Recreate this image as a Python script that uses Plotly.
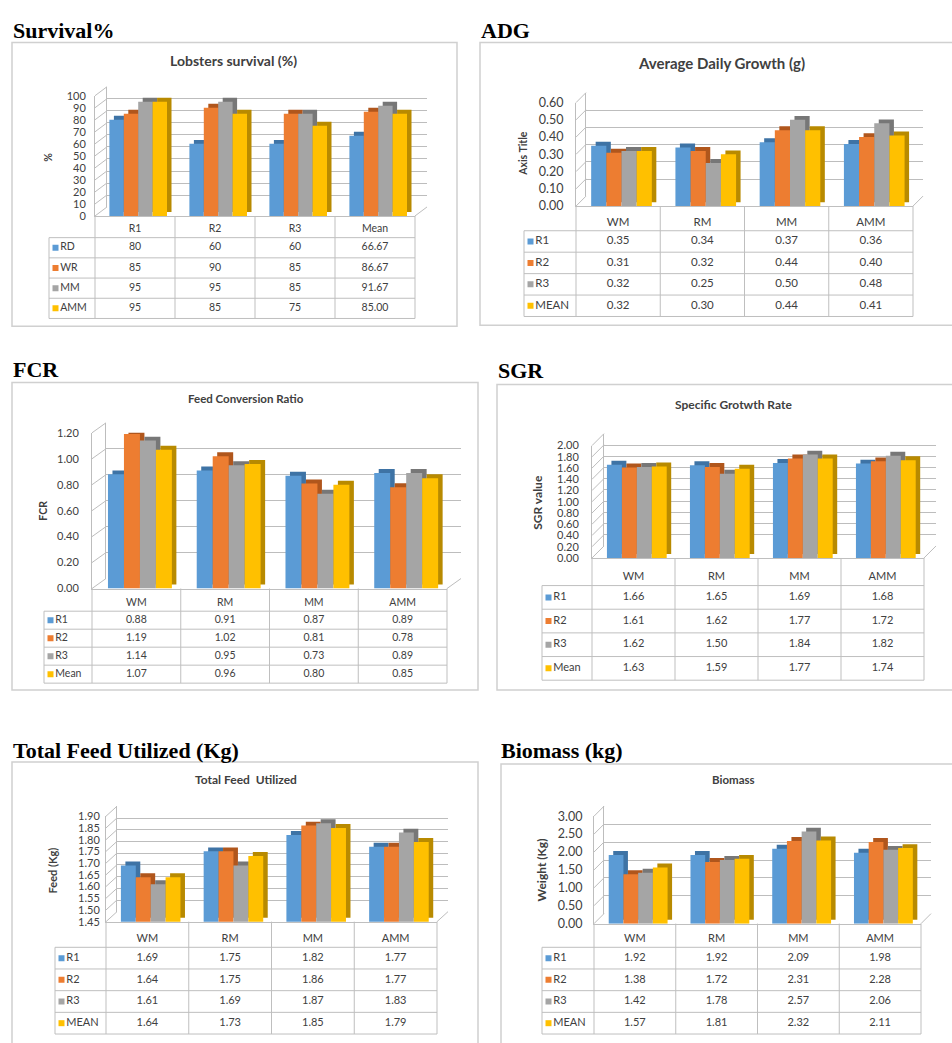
import plotly.graph_objects as go

W, H = 952, 1043

# ---------------- data ----------------
survival_categories = ["R1", "R2", "R3", "Mean"]
survival_series = ["RD", "WR", "MM", "AMM"]
survival_values = [[80, 60, 60, 66.67],
                   [85, 90, 85, 86.67],
                   [95, 95, 85, 91.67],
                   [95, 85, 75, 85.00]]
survival_ticks = [0, 10, 20, 30, 40, 50, 60, 70, 80, 90, 100]

adg_categories = ["WM", "RM", "MM", "AMM"]
adg_series = ["R1", "R2", "R3", "MEAN"]
adg_values = [[0.35, 0.34, 0.37, 0.36],
              [0.31, 0.32, 0.44, 0.40],
              [0.32, 0.25, 0.50, 0.48],
              [0.32, 0.30, 0.44, 0.41]]
adg_ticks = [0.0, 0.1, 0.2, 0.3, 0.4, 0.5, 0.6]

fcr_categories = ["WM", "RM", "MM", "AMM"]
fcr_series = ["R1", "R2", "R3", "Mean"]
fcr_values = [[0.88, 0.91, 0.87, 0.89],
              [1.19, 1.02, 0.81, 0.78],
              [1.14, 0.95, 0.73, 0.89],
              [1.07, 0.96, 0.80, 0.85]]
fcr_ticks = [0.0, 0.2, 0.4, 0.6, 0.8, 1.0, 1.2]

sgr_categories = ["WM", "RM", "MM", "AMM"]
sgr_series = ["R1", "R2", "R3", "Mean"]
sgr_values = [[1.66, 1.65, 1.69, 1.68],
              [1.61, 1.62, 1.77, 1.72],
              [1.62, 1.50, 1.84, 1.82],
              [1.63, 1.59, 1.77, 1.74]]
sgr_ticks = [0.0, 0.2, 0.4, 0.6, 0.8, 1.0, 1.2, 1.4, 1.6, 1.8, 2.0]

feed_categories = ["WM", "RM", "MM", "AMM"]
feed_series = ["R1", "R2", "R3", "MEAN"]
feed_values = [[1.69, 1.75, 1.82, 1.77],
               [1.64, 1.75, 1.86, 1.77],
               [1.61, 1.69, 1.87, 1.83],
               [1.64, 1.73, 1.85, 1.79]]
feed_ticks = [1.45, 1.50, 1.55, 1.60, 1.65, 1.70, 1.75, 1.80, 1.85, 1.90]

biomass_categories = ["WM", "RM", "MM", "AMM"]
biomass_series = ["R1", "R2", "R3", "MEAN"]
biomass_values = [[1.92, 1.92, 2.09, 1.98],
                  [1.38, 1.72, 2.31, 2.28],
                  [1.42, 1.78, 2.57, 2.06],
                  [1.57, 1.81, 2.32, 2.11]]
biomass_ticks = [0.0, 0.5, 1.0, 1.5, 2.0, 2.5, 3.0]

# ---------------- style ----------------
COLORS = ["#5B9BD5", "#ED7D31", "#A5A5A5", "#FFC000"]
SIDES = ["#3E73A5", "#B0561C", "#777777", "#B88A00"]
FONT = "Lato, 'Open Sans', sans-serif"
SERIF = "'Liberation Serif', 'Times New Roman', serif"
TXT = "#404040"
GRID = "#BDBDBD"
TLINE = "#BFBFBF"

panels = [
    dict(heading="Survival%", hpos=(11, 23), title="Lobsters survival (%)", tpos=(233, 53),
         ytitle="%", ytpos=(48, 152), frame=(12, 35, 457, 323),
         fl=95, fr=415, ft=89, fb=211, dx=12, dy=9, leg=49, hb=233, tb=315, gap=9,
         tsz=14, ksz=11, csz=10.5, ysz=10.5,
         cats=survival_categories, series=survival_series, vals=survival_values,
         ticks=survival_ticks, tfmt="d", cfmt=["{:.0f}", "{:.0f}", "{:.0f}", "{:.2f}"]),
    dict(heading="ADG", hpos=(479, 23), title="Average Daily Growth (g)", tpos=(721, 56),
         ytitle="Axis Title", ytpos=(523, 148), frame=(480, 35, 965, 322),
         fl=576, fr=913, ft=96, fb=201, dx=10, dy=10, leg=524, hb=226, tb=313, gap=12,
         tsz=15, ksz=12.5, csz=11.5, ysz=10.5,
         cats=adg_categories, series=adg_series, vals=adg_values,
         ticks=adg_ticks, tfmt=".2f", cfmt=["{:.2f}"] * 4),
    dict(heading="FCR", hpos=(11, 367), title="Feed Conversion Ratio", tpos=(246, 396),
         ytitle="FCR", ytpos=(43, 510), frame=(12, 380, 478, 692),
         fl=92, fr=447, ft=431, fb=589, dx=14, dy=10, leg=44, hb=612, tb=685, gap=13,
         tsz=11.5, ksz=11, csz=10.5, ysz=10.5,
         cats=fcr_categories, series=fcr_series, vals=fcr_values,
         ticks=fcr_ticks, tfmt=".2f", cfmt=["{:.2f}"] * 4),
    dict(heading="SGR", hpos=(496, 368), title="Specific Grotwth Rate", tpos=(733, 402),
         ytitle="SGR value", ytpos=(538, 502), frame=(497, 382, 965, 692),
         fl=592, fr=924, ft=444, fb=558, dx=12, dy=12, leg=542, hb=586, tb=682, gap=13,
         tsz=12, ksz=11, csz=11, ysz=12,
         cats=sgr_categories, series=sgr_series, vals=sgr_values,
         ticks=sgr_ticks, tfmt=".2f", cfmt=["{:.2f}"] * 4),
    dict(heading="Total Feed Utilized (Kg)", hpos=(11, 753), title="Total Feed  Utilized", tpos=(246, 783),
         ytitle="Feed (Kg)", ytpos=(52, 875), frame=(12, 765, 478, 1070),
         fl=106, fr=437, ft=820, fb=927, dx=11, dy=10, leg=55, hb=953, tb=1041, gap=6,
         tsz=12, ksz=11, csz=11, ysz=11,
         cats=feed_categories, series=feed_series, vals=feed_values,
         ticks=feed_ticks, tfmt=".2f", cfmt=["{:.2f}"] * 4),
    dict(heading="Biomass (kg)", hpos=(499, 753), title="Biomass", tpos=(733, 783),
         ytitle="Weight (Kg)", ytpos=(541, 875), frame=(501, 767, 965, 1070),
         fl=594, fr=921, ft=820, fb=929, dx=10, dy=10, leg=542, hb=953, tb=1041, gap=11,
         tsz=11.5, ksz=12.5, csz=11, ysz=12,
         cats=biomass_categories, series=biomass_series, vals=biomass_values,
         ticks=biomass_ticks, tfmt=".2f", cfmt=["{:.2f}"] * 4),
]


def px(x):
    return x / W


def py(y):
    return 1 - y / H


def aname(kind, i):
    return kind + "axis" + ("" if i == 1 else str(i))


def aref(kind, i):
    return kind + ("" if i == 1 else str(i))


fig = go.Figure()
layout = {}
shapes = []
annotations = []

for p, P in enumerate(panels):
    ib, jf, it = 3 * p + 1, 3 * p + 2, 3 * p + 3
    ticks = P["ticks"]
    r0, r1 = ticks[0], ticks[-1]
    fl, fr, ft, fb = P["fl"], P["fr"], P["ft"], P["fb"]
    dx, dy = P["dx"], P["dy"]
    ncat = len(P["cats"])
    colw = (fr - fl) / ncat
    xpos = list(range(ncat))

    # ---- back wall (gridlines) ----
    layout[aname("x", ib)] = dict(domain=[px(fl + dx), px(fr + dx)], range=[-0.5, ncat - 0.5],
                                  anchor=aref("y", ib), visible=False, fixedrange=True)
    layout[aname("y", ib)] = dict(domain=[py(fb - dy), py(ft - dy)], range=[r0, r1],
                                  anchor=aref("x", ib), tickvals=ticks, showticklabels=False,
                                  showgrid=True, gridcolor=GRID, gridwidth=1, zeroline=False,
                                  showline=True, linecolor=GRID, linewidth=1, ticks="",
                                  fixedrange=True)
    fig.add_trace(go.Scatter(x=[None], y=[None], xaxis=aref("x", ib), yaxis=aref("y", ib),
                             showlegend=False, hoverinfo="skip"))

    # ---- front axes (bars + tick labels) ----
    layout[aname("x", jf)] = dict(domain=[px(fl), px(fr)], range=[-0.5, ncat - 0.5],
                                  anchor=aref("y", jf), showticklabels=False, ticks="",
                                  showgrid=False, zeroline=False, showline=True,
                                  linecolor=TLINE, linewidth=1, fixedrange=True)
    layout[aname("y", jf)] = dict(domain=[py(fb), py(ft)], range=[r0, r1], anchor=aref("x", jf),
                                  tickvals=ticks, tickformat=P["tfmt"], ticks="outside",
                                  ticklen=max(P["gap"] - 3, 0), tickcolor="rgba(0,0,0,0)",
                                  showgrid=False, zeroline=False, showline=True,
                                  linecolor=GRID, linewidth=1,
                                  tickfont=dict(family=FONT, size=P["ksz"], color=TXT),
                                  fixedrange=True)

    bw = 0.18
    sx = 4.5 / colw
    sy = 4.0 * (r1 - r0) / (fb - ft)
    for i, (name, vals) in enumerate(zip(P["series"], P["vals"])):
        off = -0.32 + bw * i
        fig.add_trace(go.Bar(x=xpos, y=[v - r0 for v in vals], base=r0 + sy,
                             offset=off + sx, width=bw,
                             marker=dict(color=SIDES[i], line=dict(width=0)),
                             xaxis=aref("x", jf), yaxis=aref("y", jf),
                             showlegend=False, hoverinfo="skip"))
        fig.add_trace(go.Bar(x=xpos, y=vals, offset=off, width=bw, name=name,
                             marker=dict(color=COLORS[i], line=dict(width=0)),
                             xaxis=aref("x", jf), yaxis=aref("y", jf), showlegend=False))

    # left wall diagonals and floor edge
    for v in ticks:
        shapes.append(dict(type="line", xref=aref("x", jf) + " domain", yref=aref("y", jf) + " domain",
                           xsizemode="pixel", ysizemode="pixel", xanchor=0,
                           yanchor=(v - r0) / (r1 - r0), x0=0, x1=dx, y0=0, y1=dy,
                           line=dict(color=GRID, width=1)))
    shapes.append(dict(type="line", xref=aref("x", jf) + " domain", yref=aref("y", jf) + " domain",
                       xsizemode="pixel", ysizemode="pixel", xanchor=1, yanchor=0,
                       x0=0, x1=dx, y0=0, y1=dy, line=dict(color=GRID, width=1)))

    # ---- data table ----
    leg = P["leg"]
    hh = P["hb"] - fb
    rh = (P["tb"] - P["hb"]) / len(P["series"])
    tbot = P["tb"] - fb
    xl = (leg - fl) / colw - 0.5
    layout[aname("x", it)] = dict(domain=[px(leg - 2), px(fr + 2)],
                                  range=[(leg - 2 - fl) / colw - 0.5, (fr + 2 - fl) / colw - 0.5],
                                  anchor=aref("y", it), visible=False, fixedrange=True)
    layout[aname("y", it)] = dict(domain=[max(py(P["tb"] + 2), 0), py(fb - 2)],
                                  range=[P["tb"] + 2 - fb, -2],
                                  anchor=aref("x", it), visible=False, fixedrange=True)
    xr, yr = aref("x", it), aref("y", it)
    for k in range(ncat + 1):
        shapes.append(dict(type="line", xref=xr, yref=yr, x0=k - 0.5, x1=k - 0.5, y0=0, y1=tbot,
                           line=dict(color=TLINE, width=1)))
    shapes.append(dict(type="line", xref=xr, yref=yr, x0=xl, x1=xl, y0=hh, y1=tbot,
                       line=dict(color=TLINE, width=1)))
    for j in range(len(P["series"]) + 1):
        yy = hh + j * rh
        shapes.append(dict(type="line", xref=xr, yref=yr, x0=xl, x1=ncat - 0.5, y0=yy, y1=yy,
                           line=dict(color=TLINE, width=1)))
    tfont = dict(family=FONT, size=P["csz"], color=TXT)
    fig.add_trace(go.Scatter(x=xpos, y=[hh - 8] * ncat, text=P["cats"], mode="text",
                             textfont=tfont, xaxis=xr, yaxis=yr, showlegend=False, hoverinfo="skip"))
    for j, vals in enumerate(P["vals"]):
        yc = hh + (j + 0.5) * rh
        fig.add_trace(go.Scatter(x=xpos, y=[yc] * ncat,
                                 text=[P["cfmt"][k].format(v) for k, v in enumerate(vals)],
                                 mode="text", textfont=tfont, xaxis=xr, yaxis=yr,
                                 showlegend=False, hoverinfo="skip"))
    fig.add_trace(go.Scatter(x=[xl + 6.5 / colw] * len(P["series"]),
                             y=[hh + (j + 0.5) * rh for j in range(len(P["series"]))],
                             text=P["series"], mode="markers+text", textposition="middle right",
                             marker=dict(symbol="square", size=6, color=COLORS[:len(P["series"])]),
                             textfont=tfont, xaxis=xr, yaxis=yr, showlegend=False, hoverinfo="skip"))

    # ---- frame and texts ----
    x0, y0, x1, y1 = P["frame"]
    shapes.append(dict(type="rect", xref="paper", yref="paper", x0=px(x0), x1=px(x1),
                       y0=py(y1), y1=py(y0), line=dict(color="#D0D0D0", width=1.5)))
    annotations.append(dict(text="<b>" + P["heading"] + "</b>", x=px(P["hpos"][0]), y=py(P["hpos"][1]),
                            xref="paper", yref="paper", xanchor="left", yanchor="middle",
                            showarrow=False, font=dict(family=SERIF, size=22, color="#000000")))
    annotations.append(dict(text="<b>" + P["title"] + "</b>", x=px(P["tpos"][0]), y=py(P["tpos"][1]),
                            xref="paper", yref="paper", xanchor="center", yanchor="middle",
                            showarrow=False, font=dict(family=FONT, size=P["tsz"], color=TXT)))
    annotations.append(dict(text="<b>" + P["ytitle"] + "</b>", x=px(P["ytpos"][0]), y=py(P["ytpos"][1]),
                            xref="paper", yref="paper", xanchor="center", yanchor="middle",
                            textangle=-90, showarrow=False,
                            font=dict(family=FONT, size=P["ysz"], color=TXT)))

fig.update_layout(width=W, height=H, margin=dict(l=0, r=0, t=0, b=0, pad=0),
                  paper_bgcolor="white", plot_bgcolor="rgba(0,0,0,0)",
                  barmode="overlay", showlegend=False, shapes=shapes, annotations=annotations,
                  **layout)

fig.write_html("out.html", config={"displayModeBar": False})
